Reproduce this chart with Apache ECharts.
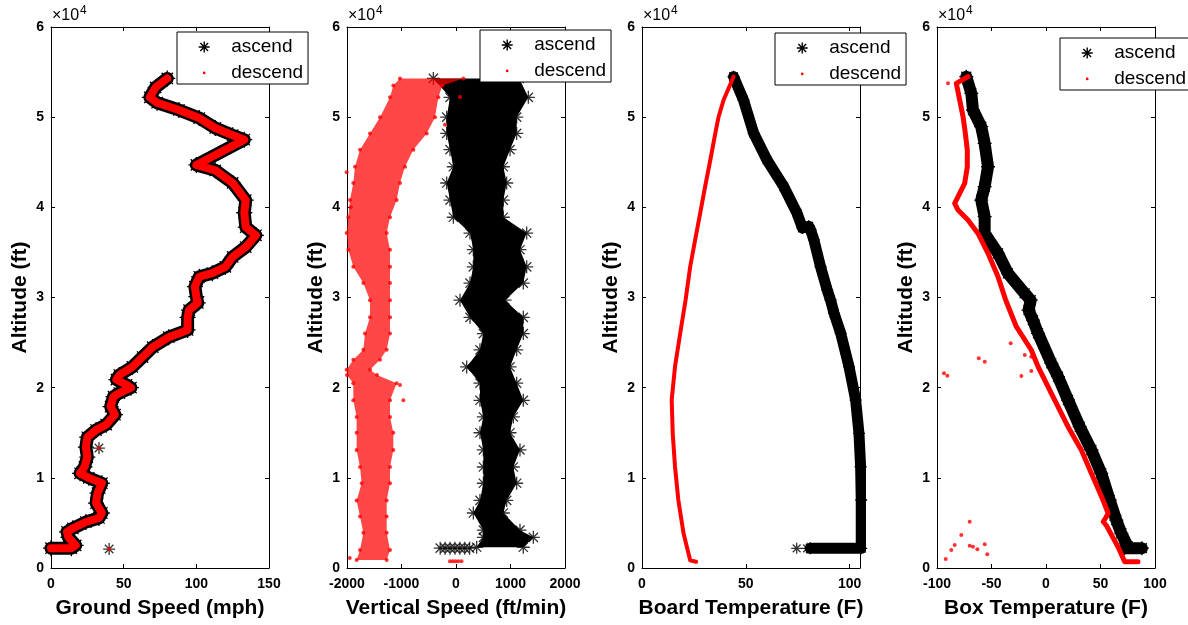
<!DOCTYPE html>
<html><head><meta charset="utf-8">
<script src="https://cdn.jsdelivr.net/npm/echarts@6/dist/echarts.min.js"></script>
<style>html,body{margin:0;padding:0;background:#fff}#c{width:1188px;height:625px}</style>
</head><body><div id="c"></div>
<script>
// ---------- Panel 1: Ground speed (mph) vs altitude (ft) ----------
const gsAlt = [2200, 2200, 2500, 3400, 4000, 4400, 5100, 5550, 6100, 7200, 8300, 9400, 10000, 10500, 11200, 12300, 13400, 14500, 15300, 15900, 17000, 17900, 19000, 19400, 20000, 20300, 20900, 21400, 22300, 23400, 24500, 25600, 26400, 27800, 28600, 29400, 30100, 31200, 32300, 32700, 33400, 34500, 35600, 36900, 37800, 39400, 40800, 42700, 44100, 44700, 47500, 48000, 48800, 49900, 50800, 51600, 52200, 53300, 54300];
const gsVal = [0, 14, 17, 12, 11, 15, 24, 33, 35, 31, 32, 35, 26, 20, 23, 25, 24, 25, 31, 38, 44, 41, 43, 47, 55, 52, 45, 47, 56, 63, 70, 81, 94, 94, 95, 101, 100, 99, 102, 111, 120, 125, 134, 141, 134, 133, 134, 125, 113, 100, 133, 125, 113, 102, 88, 73, 68, 72, 80];
const gsOddAlt = [13300, 2100];
const gsOddVal = [33, 40];

// ---------- Panel 2: Vertical speed (ft/min) ----------
const vsAscAlt = [2300, 3400, 4200, 6100, 7500, 9400, 11200, 13100, 15000, 16750, 18600, 20500, 22300, 24200, 26000, 27800, 29700, 31600, 33400, 35300, 37150, 38900, 40800, 42700, 44500, 46400, 48200, 50000, 52200, 54300];
const vsAscLo  = [379, 502, 502, 318, 440, 502, 502, 502, 440, 502, 440, 440, 196, 440, 502, 257, 73, 257, 318, 318, 257, -49, -110, -171, -49, -110, -171, -171, -110, -416];
const vsAscHi  = [1235, 1419, 1174, 869, 930, 1113, 1052, 1174, 991, 1052, 1235, 1113, 991, 1113, 1235, 1235, 900, 1235, 1297, 1174, 1297, 869, 869, 930, 869, 991, 1113, 1113, 1327, 1160];
const vsAscGroundX = [-290, -200, -110, -20, 70, 160, 250];
const vsAscGroundAlt = 2200;
const vsDescAlt = [900, 2000, 3900, 5700, 7500, 9400, 11200, 13100, 15000, 16750, 18600, 20500, 21400, 22000, 23100, 24200, 26000, 27800, 29700, 31600, 33400, 35300, 37150, 38900, 40800, 42700, 44500, 46400, 48200, 50000, 52200, 53500, 54300];
const vsDescLo  = [-1823, -1761, -1700, -1761, -1823, -1731, -1761, -1823, -1823, -1823, -1884, -1884, -2000, -2006, -1884, -1700, -1670, -1578, -1578, -1700, -1884, -1976, -2006, -1976, -1945, -1884, -1853, -1761, -1578, -1394, -1211, -1150, -1028];
const vsDescHi  = [-1272, -1211, -1272, -1272, -1272, -1211, -1211, -1150, -1150, -1211, -1211, -1089, -1450, -1578, -1394, -1272, -1211, -1211, -1211, -1211, -1211, -1211, -1272, -1211, -1089, -1028, -936, -783, -538, -385, -324, -250, 134];
const vsDescOddX   = [-2006, -1930, -966, -1028, -202, -1950, 73];
const vsDescOddAlt = [43900, 40000, 18600, 20300, 49150, 1100, 52240];
const vsDescGroundX = [-110, -60, -10, 40, 100];
const vsDescGroundAlt = 750;

// ---------- Panel 3: Board temperature (F) ----------
const bdAscAlt = [2180, 2180, 7540, 11230, 14940, 18630, 22330, 26030, 28250, 29720, 30830, 33410, 36380, 37500, 37900, 37700, 39340, 42290, 45250, 48210, 51900, 54490];
const bdAscVal = [81, 105.6, 105.6, 105.3, 104.5, 102.9, 99.7, 95.7, 92.5, 90.8, 89.2, 86.0, 82.8, 81.2, 80.3, 77.3, 74.7, 68.3, 60.2, 53.8, 48.9, 44.1];
const bdOddAlt = [2180, 2180];
const bdOddVal = [74.5, 79.5];
const bdDescAlt = [700, 850, 3850, 7540, 11230, 14940, 18630, 22330, 26030, 29720, 33410, 36380, 39340, 42290, 45250, 48210, 50050, 51900, 54490];
const bdDescVal = [26.1, 23.2, 20.0, 17.5, 15.9, 14.8, 14.3, 15.9, 18.4, 21.0, 23.2, 25.6, 28.0, 30.4, 32.9, 35.3, 36.9, 39.3, 44.1];

// ---------- Panel 4: Box temperature (F) ----------
const bxAscAlt = [2200, 2200, 2400, 3850, 5320, 7540, 10500, 13090, 15670, 18630, 21220, 22700, 26030, 27500, 28600, 29700, 30460, 32680, 34900, 37110, 38960, 40810, 42290, 44500, 47100, 48940, 50790, 52640, 54490];
const bxAscVal = [88, 72, 75, 69.1, 64.5, 58.4, 50.7, 41.6, 30.9, 20.2, 11.0, 4.9, -7.3, -12, -16, -14, -19.6, -34.9, -44.0, -56.3, -56.3, -59.4, -56.3, -53.2, -56.3, -59.4, -67.0, -68.5, -73.1];
const bxDescAlt = [700, 700, 900, 2360, 4700, 5130, 5600, 6070, 7540, 10500, 13090, 15670, 18630, 22330, 24180, 26760, 29720, 32310, 34900, 37110, 38590, 39700, 40440, 41540, 42650, 44500, 46360, 48210, 50050, 51900, 53750, 54490];
const bxDescVal = [84.4, 72.2, 72.2, 66.0, 55.5, 52.5, 55, 57, 52.3, 41.6, 32.4, 20.2, 8.0, -7.3, -13.5, -27.2, -37, -44.0, -53.2, -62.4, -71.6, -80.7, -83.8, -79.2, -74.6, -72.2, -72.2, -74.0, -76.1, -79.2, -82.3, -71.6];
const bxOddVal = [-32.4, -61.7, -56.2, -93.6, -90.5, -22.6, -19.5, -13.5, -13.5, -70.0, -77.7, -83.8, -86.9, -92.0, -70.0, -67.0, -63.0, -56.2, -53.9, -89.9, -83.8];
const bxOddAlt = [24920, 23250, 22880, 21590, 21330, 21290, 23620, 23440, 21850, 5130, 3660, 2550, 2000, 1000, 2480, 2360, 2070, 2630, 1520, 53750, 40440];

// ---------- axes / labels ----------
const xNames = ['Ground Speed (mph)', 'Vertical Speed (ft/min)', 'Board Temperature (F)', 'Box Temperature (F)'];
const xMin = [0, -2000, 0, -100];
const xMax = [150, 2000, 105, 100];
const xStep = [50, 1000, 50, 50];
const yName = 'Altitude (ft)';
const seriesNames = ['ascend', 'descend'];

// ---------- layout ----------
const gridLefts = [51, 347, 642, 937];
const gridTop = 27, gridW = 218, gridH = 541;
const legendPos = [[177, 32], [480, 30], [775, 33], [1060, 38]];
const FONT = "'Liberation Sans', Arial, Helvetica, sans-serif";
const ASTER = 'path://M5,0V10M0,5H10M1.46,1.46L8.54,8.54M8.54,1.46L1.46,8.54';
const DOT = 'path://M0,0h0.01v0.01h-0.01zM12,12h0.01v0.01h-0.01zM4.5,6A1.5,1.5,0,1,1,7.5,6A1.5,1.5,0,1,1,4.5,6Z';
const BLK = '#000', RED = '#ff0000';

const pts = (xs, ys) => xs.map((x, i) => [x, Array.isArray(ys) ? ys[i] : ys]);
const asterStyle = {color: BLK, borderColor: BLK, borderWidth: 1.3};
const common = {animation: false, silent: true, emphasis: {disabled: true}, clip: false};

function lineSer(name, k, data, color, width, sym, symSize, z) {
  return Object.assign({type: 'line', name, xAxisIndex: k, yAxisIndex: k, data, z,
    showSymbol: sym !== 'none', showAllSymbol: true, symbol: sym, symbolSize: symSize,
    itemStyle: sym === ASTER ? asterStyle : {color},
    lineStyle: {color, width, join: 'round', cap: 'round'}}, common);
}
function scatAster(k, data, size) {
  return Object.assign({type: 'scatter', name: 'ascend', xAxisIndex: k, yAxisIndex: k, data, z: 2,
    symbol: ASTER, symbolSize: size, itemStyle: asterStyle}, common);
}
function scatDot(k, data, size) {
  return Object.assign({type: 'scatter', name: 'descend', xAxisIndex: k, yAxisIndex: k, data, z: 3,
    symbol: 'circle', symbolSize: size, itemStyle: {color: RED}}, common);
}
function band(name, k, alt, lo, hi, fill, z) {
  return Object.assign({type: 'custom', name, xAxisIndex: k, yAxisIndex: k, z,
    data: alt.map((a, i) => [lo[i], hi[i], a]), encode: {x: [0, 1], y: 2},
    renderItem: (params, api) => {
      if (params.dataIndex !== 0) return null;
      const p = [];
      for (let i = 0; i < alt.length; i++) p.push(api.coord([lo[i], alt[i]]));
      for (let i = alt.length - 1; i >= 0; i--) p.push(api.coord([hi[i], alt[i]]));
      return {type: 'polygon', shape: {points: p}, style: {fill, stroke: 'none'}};
    }}, common);
}

const series = [
  // panel 1
  lineSer('ascend', 0, pts(gsVal, gsAlt), BLK, 13, ASTER, 16, 2),
  scatAster(0, pts(gsOddVal, gsOddAlt), 12),
  lineSer('descend', 0, pts(gsVal, gsAlt), RED, 8, 'none', 0, 3),
  scatDot(0, pts(gsOddVal, gsOddAlt), 4),
  // panel 2
  band('ascend', 1, vsAscAlt, vsAscLo, vsAscHi, BLK, 2),
  scatAster(1, pts(vsAscLo, vsAscAlt).concat(pts(vsAscHi, vsAscAlt), pts(vsAscGroundX, vsAscGroundAlt)), 13),
  band('descend', 1, vsDescAlt, vsDescLo, vsDescHi, 'rgba(255,0,0,0.72)', 3),
  scatDot(1, pts(vsDescLo, vsDescAlt).concat(pts(vsDescHi, vsDescAlt), pts(vsDescOddX, vsDescOddAlt), pts(vsDescGroundX, vsDescGroundAlt)), 4),
  // panel 3
  lineSer('ascend', 2, pts(bdAscVal, bdAscAlt), BLK, 11, ASTER, 12, 2),
  scatAster(2, pts(bdOddVal, bdOddAlt), 11),
  lineSer('descend', 2, pts(bdDescVal, bdDescAlt), RED, 4, 'none', 0, 3),
  // panel 4
  lineSer('ascend', 3, pts(bxAscVal, bxAscAlt), BLK, 12, ASTER, 14, 2),
  lineSer('descend', 3, pts(bxDescVal, bxDescAlt), RED, 5, 'none', 0, 3),
  scatDot(3, pts(bxOddVal, bxOddAlt), 4)
];

const axisLine = {show: true, onZero: false, lineStyle: {color: BLK, width: 1}};
const tick = {show: true, inside: true, length: 4, lineStyle: {color: BLK, width: 1}};
const lblFont = {fontFamily: FONT, fontWeight: 'bold', fontSize: 14, color: BLK};
const nameFont = {fontFamily: FONT, fontWeight: 'bold', fontSize: 21, color: BLK};

const grid = gridLefts.map(l => ({left: l, top: gridTop, width: gridW, height: gridH, containLabel: false}));
const xAxis = [], yAxis = [];
for (let k = 0; k < 4; k++) {
  xAxis.push({type: 'value', gridIndex: k, min: xMin[k], max: xMax[k], interval: xStep[k], position: 'bottom',
    name: xNames[k], nameLocation: 'middle', nameGap: 30, nameTextStyle: nameFont,
    axisLine, axisTick: tick, splitLine: {show: false},
    axisLabel: Object.assign({margin: 9, showMaxLabel: xMax[k] % xStep[k] === 0,
      formatter: v => (v % xStep[k] === 0 ? String(v) : '')}, lblFont)});
  yAxis.push({type: 'value', gridIndex: k, min: 0, max: 60000, interval: 10000, position: 'left',
    name: yName, nameLocation: 'middle', nameGap: 20, nameTextStyle: nameFont,
    axisLine, axisTick: tick, splitLine: {show: false},
    axisLabel: Object.assign({margin: 7, formatter: v => String(v / 10000)}, lblFont)});
}
for (let k = 0; k < 4; k++) {
  xAxis.push({type: 'value', gridIndex: k, min: xMin[k], max: xMax[k], interval: xStep[k], position: 'top',
    axisLine, axisTick: tick, axisLabel: {show: false}, splitLine: {show: false}});
  yAxis.push({type: 'value', gridIndex: k, min: 0, max: 60000, interval: 10000, position: 'right',
    axisLine, axisTick: tick, axisLabel: {show: false}, splitLine: {show: false}});
}

const legend = legendPos.map(([l, t]) => ({
  left: l, top: t, orient: 'vertical', itemWidth: 12, itemHeight: 11, itemGap: 6,
  padding: [5, 5, 1, 21], backgroundColor: '#fff', borderColor: BLK, borderWidth: 1, borderRadius: 0,
  selectedMode: false, symbolKeepAspect: true,
  textStyle: {fontFamily: FONT, fontSize: 19, color: BLK, lineHeight: 20, padding: [0, 0, 0, 16]},
  data: [
    {name: seriesNames[0], icon: ASTER, itemStyle: {color: BLK, borderColor: BLK, borderWidth: 1.4}},
    {name: seriesNames[1], icon: DOT, itemStyle: {color: RED, borderWidth: 0}}
  ]
}));

const graphic = [];
gridLefts.forEach(l => {
  graphic.push({type: 'text', left: l + 1, top: 8, z: 10,
    style: {text: '×10', fontFamily: FONT, fontSize: 16, fill: BLK}});
  graphic.push({type: 'text', left: l + 29, top: 5, z: 10,
    style: {text: '4', fontFamily: FONT, fontSize: 12, fill: BLK}});
});

const chart = echarts.init(document.getElementById('c'), null, {renderer: 'canvas'});
chart.setOption({backgroundColor: '#fff', animation: false, grid, xAxis, yAxis, legend, graphic, series, tooltip: {show: false}});
</script></body></html>
